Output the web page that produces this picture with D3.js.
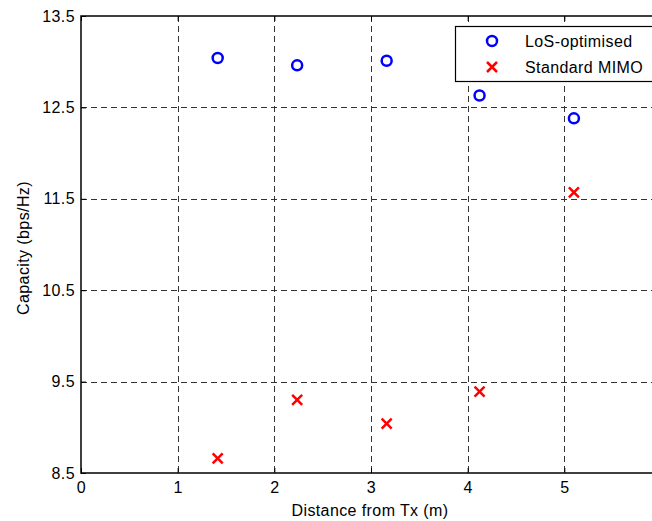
<!DOCTYPE html>
<html>
<head>
<meta charset="utf-8">
<script src="https://cdn.jsdelivr.net/npm/d3@7"></script>
<style>
	body { margin: 0; background: #fff; }
	svg { display: block; font-family: "Liberation Sans", Arial, sans-serif; }
	text { letter-spacing: 0.4px; }
</style>
</head>
<body>
<svg id="chart" width="652" height="521"></svg>
<script>

// distance from transmitter (m)
let distances = [1.414, 2.236, 3.162, 4.123, 5.099];
// capacity values (bps/Hz)
let losOptimised = [13.04, 12.96, 13.01, 12.63, 12.38];
let standardMimo = [8.66, 9.30, 9.04, 9.39, 11.57];

let xTicks = [0, 1, 2, 3, 4, 5];
let yTicks = [8.5, 9.5, 10.5, 11.5, 12.5, 13.5];
let seriesNames = ['LoS-optimised', 'Standard MIMO'];

let plot = { left: 81, top: 16, right: 661, bottom: 473 };
let fontSize = '16px';

let svg = d3.select('#chart');

let xScale = d3.scaleLinear().domain([0, 6]).range([plot.left, plot.right]);
let yScale = d3.scaleLinear().domain([8.5, 13.5]).range([plot.bottom, plot.top]);

// grid lines
let grid = svg.append('g')
	.attr('stroke', '#333')
	.attr('stroke-width', 1)
	.attr('stroke-dasharray', '6,4');

grid.selectAll('.vgrid')
	.data(xTicks.filter(t => t > 0))
	.enter().append('line')
	.attr('x1', d => Math.round(xScale(d)) + 0.5)
	.attr('x2', d => Math.round(xScale(d)) + 0.5)
	.attr('y1', plot.top)
	.attr('y2', plot.bottom);

grid.selectAll('.hgrid')
	.data(yTicks.filter(t => t > 8.5 && t < 13.5))
	.enter().append('line')
	.attr('x1', plot.left)
	.attr('x2', plot.right)
	.attr('y1', d => Math.round(yScale(d)) + 0.5)
	.attr('y2', d => Math.round(yScale(d)) + 0.5);

// axes
let xAxis = d3.axisBottom(xScale).tickValues(xTicks).tickSize(-5).tickPadding(9).tickFormat(d3.format('d'));
let yAxis = d3.axisLeft(yScale).tickValues(yTicks).tickSize(-5).tickPadding(6).tickFormat(d3.format('.1f'));
let xAxisTop = d3.axisTop(xScale).tickValues(xTicks).tickSize(-5).tickFormat('');

let gx = svg.append('g')
	.attr('transform', `translate(0,${plot.bottom})`)
	.call(xAxis);
let gy = svg.append('g')
	.attr('transform', `translate(${plot.left},0)`)
	.call(yAxis);
let gt = svg.append('g')
	.attr('transform', `translate(0,${plot.top})`)
	.call(xAxisTop);

[gx, gy, gt].forEach(g => {
	g.select('.domain').remove();
	g.selectAll('line').attr('stroke', '#000');
	g.selectAll('text')
		.attr('fill', '#000')
		.style('font-size', fontSize)
		.style('font-family', '"Liberation Sans", Arial, sans-serif');
});

// axes box
svg.append('path')
	.attr('d', `M${plot.right},${plot.top}H${plot.left}V${plot.bottom}H${plot.right}`)
	.attr('fill', 'none')
	.attr('stroke', '#000')
	.attr('stroke-width', 1.5);

// axis labels
svg.append('text')
	.attr('x', 370)
	.attr('y', 516)
	.attr('text-anchor', 'middle')
	.style('font-size', fontSize)
	.text('Distance from Tx (m)');

svg.append('text')
	.attr('transform', `translate(29,248) rotate(-90)`)
	.attr('text-anchor', 'middle')
	.style('font-size', fontSize)
	.text('Capacity (bps/Hz)');

// markers
function drawCross(g, x, y, s) {
	g.append('path')
		.attr('d', `M${x - s},${y - s}L${x + s},${y + s}M${x - s},${y + s}L${x + s},${y - s}`)
		.attr('stroke', '#ff0000')
		.attr('stroke-width', 2.5)
		.attr('fill', 'none');
}

svg.append('g').selectAll('circle')
	.data(distances.map((d, i) => ({ x: d, y: losOptimised[i] })))
	.enter().append('circle')
	.attr('cx', d => xScale(d.x))
	.attr('cy', d => yScale(d.y))
	.attr('r', 5)
	.attr('fill', 'none')
	.attr('stroke', '#0000ff')
	.attr('stroke-width', 2.5);

let crosses = svg.append('g');
distances.forEach((d, i) => drawCross(crosses, xScale(d), yScale(standardMimo[i]), 5));

// legend
let legend = svg.append('g');
legend.append('rect')
	.attr('x', 455.5)
	.attr('y', 26.5)
	.attr('width', 210)
	.attr('height', 55)
	.attr('fill', '#fff')
	.attr('stroke', '#000')
	.attr('stroke-width', 1.2);

legend.append('circle')
	.attr('cx', 492)
	.attr('cy', 41)
	.attr('r', 5)
	.attr('fill', 'none')
	.attr('stroke', '#0000ff')
	.attr('stroke-width', 2.5);
drawCross(legend, 492, 67, 5);

legend.selectAll('text')
	.data(seriesNames)
	.enter().append('text')
	.attr('x', 525)
	.attr('y', (d, i) => 47 + i * 26)
	.style('font-size', fontSize)
	.text(d => d);

</script>
</body>
</html>
